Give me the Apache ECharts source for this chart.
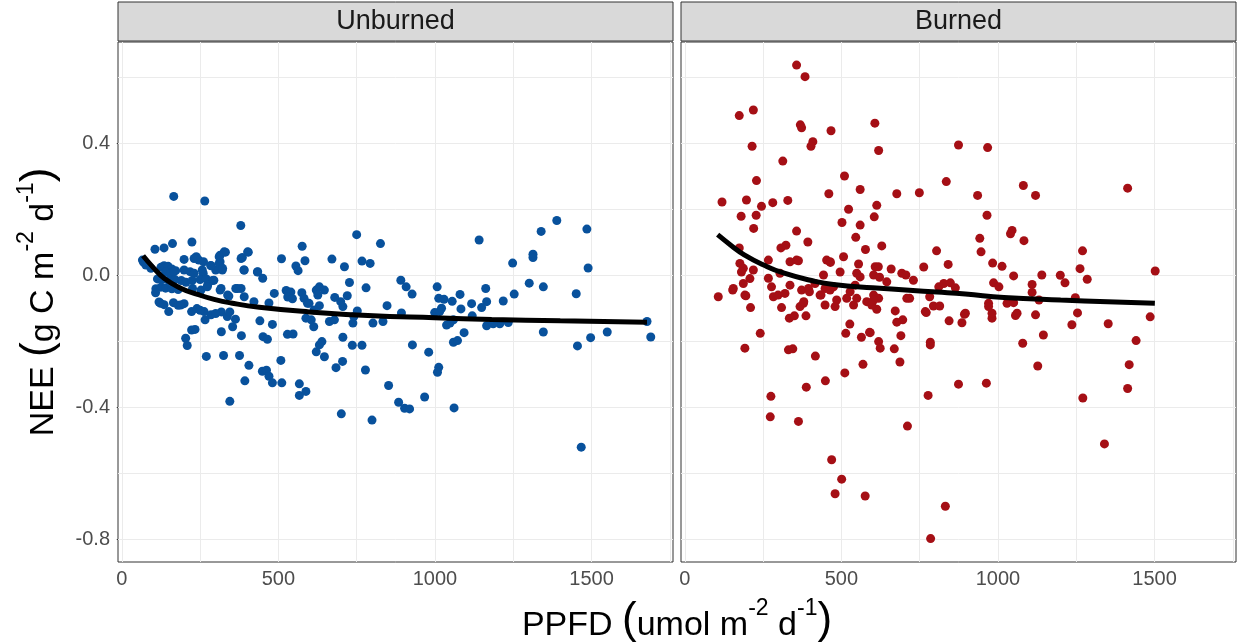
<!DOCTYPE html>
<html><head><meta charset="utf-8">
<script src="https://cdn.jsdelivr.net/npm/echarts@6/dist/echarts.min.js"></script>
<style>html,body{margin:0;padding:0;background:#fff}#c{width:1239px;height:644px}</style>
</head><body><div id="c"></div>
<script>
const facetLabels = ['Unburned', 'Burned'];
const xTicks = [0, 500, 1000, 1500];
const xMinor = [250, 750, 1250, 1750];
const yTicks = [-0.8, -0.4, 0, 0.4];
const yMinor = [-0.6, -0.2, 0.2, 0.6];

const unburnedPoints = [
[166,0.240],[265,0.226],[380,0.152],[106,0.080],[135,0.084],[162,0.097],[224,0.102],[331,0.071],[404,0.071],[576,0.089],
[510,0.051],[238,0.057],[246,0.047],[314,0.062],[314,0.042],[385,0.055],[199,0.049],[66,0.047],[77,0.032],[93,0.022],[70,0.040],
[556,0.029],[563,0.015],[585,0.045],[433,0.011],[450,-0.008],[390,0.017],[284,0.031],[300,0.017],[321,0.017],[257,0.017],[260,0.007],
[125,0.025],[135,0.030],[148,0.028],[160,0.020],[172,0.015],[140,0.010],[155,0.005],[166,0.012],[231,0.052],[261,0.042],[199,0.017],
[218,0.012],[231,0.007],[285,0.030],[311,0.057],[327,0.072],[311,0.037],[322,0.022],[381,0.052],[402,0.072],[391,0.017],[434,0.012],
[114,-0.010],[130,-0.012],[150,-0.015],[170,-0.012],[190,-0.015],[205,-0.020],[225,-0.015],[250,-0.012],[270,-0.010],[290,-0.015],
[109,-0.040],[125,-0.035],[140,-0.038],[160,-0.040],[180,-0.042],[226,-0.039],[253,-0.044],[274,-0.029],[317,-0.039],[338,-0.059],
[370,-0.039],[381,-0.039],[391,-0.064],[294,-0.014],[273,-0.034],
[108,-0.052],[150,-0.109],[124,-0.084],[119,-0.080],[135,-0.088],[165,-0.082],[180,-0.090],[199,-0.085],[188,-0.089],[223,-0.109],
[263,-0.109],[266,-0.134],[285,-0.119],[318,-0.110],[337,-0.124],[363,-0.132],[240,-0.100],[250,-0.105],[300,-0.115],[345,-0.110],
[354,-0.155],[318,-0.170],[382,-0.182],[441,-0.137],[481,-0.148],[451,-0.185],[465,-0.193],[529,-0.178],[547,-0.177],[223,-0.165],
[234,-0.163],[204,-0.190],[209,-0.212],[270,-0.245],[325,-0.242],[376,-0.242],[406,-0.272],[508,-0.257],[393,-0.319],[449,-0.290],
[462,-0.287],[470,-0.305],[481,-0.325],[511,-0.325],[567,-0.328],[567,-0.363],[588,-0.351],[345,-0.381],
[487,-0.054],[525,-0.045],[540,-0.050],[530,-0.065],[545,-0.070],[575,-0.052],[582,-0.069],[593,-0.084],[588,-0.129],[470,-0.083],
[422,-0.079],[364,-0.039],[342,-0.062],[314,-0.044],
[750,0.124],[826,0.097],[1141,0.108],[671,0.050],[711,0.027],[767,0.044],[793,0.037],[727,-0.021],[780,-0.037],[891,-0.014],
[908,-0.034],[927,-0.056],[1007,-0.034],[1012,-0.069],[1029,-0.072],[1055,-0.078],[1080,-0.057],[1083,-0.101],[1117,-0.085],[1149,-0.097],
[1162,-0.039],[1165,-0.079],[999,-0.112],[1015,-0.109],[1021,-0.099],[1037,-0.150],[1048,-0.144],[1059,-0.134],[1119,-0.122],[1165,-0.152],
[1059,-0.202],[1072,-0.197],[1093,-0.173],[980,-0.232],[1012,-0.278],[1008,-0.293],[1061,-0.401],[967,-0.368],[928,-0.210],[884,-0.384],
[903,-0.402],[919,-0.404],[852,-0.333],[799,-0.438],[701,-0.419],[778,-0.286],[767,-0.211],[736,-0.211],[706,-0.187],[705,-0.260],
[684,-0.279],[647,-0.246],[621,-0.231],[631,-0.210],[639,-0.200],[847,-0.091],[893,-0.113],[802,-0.144],[834,-0.139],[738,-0.144],
[741,-0.124],[752,-0.107],[706,-0.094],[699,-0.079],[680,-0.066],[720,-0.061],[663,-0.139],[679,-0.134],[613,-0.155],[605,-0.134],
[621,-0.044],[631,-0.034],[647,-0.044],[626,-0.059],[631,-0.091],[614,-0.104],[598,-0.084],
[1389,0.167],[1339,0.134],[1485,0.141],[1313,0.065],[1313,0.055],[1248,0.038],[1489,0.023],[1301,-0.023],[1346,-0.034],[1451,-0.055],
[1253,-0.056],[1218,-0.077],[1207,-0.146],[1234,-0.142],[1186,-0.146],[1346,-0.171],[1455,-0.213],[1497,-0.188],[1550,-0.171],[1677,-0.139],
[1689,-0.186],[1467,-0.520]
];

const burnedPoints = [
[357,0.638],[384,0.603],[174,0.485],[219,0.502],[369,0.457],[373,0.448],[467,0.439],[215,0.392],[409,0.406],[403,0.392],
[313,0.347],[229,0.288],[510,0.302],[560,0.261],[460,0.248],[119,0.223],[197,0.229],[245,0.210],[281,0.221],[329,0.228],
[523,0.201],[180,0.180],[228,0.183],[220,0.143],[502,0.161],[560,0.153],[357,0.135],[546,0.116],[393,0.102],[307,0.084],
[323,0.092],[577,0.079],[174,0.084],
[176,0.037],[187,0.022],[181,0.011],[219,0.017],[267,0.047],[267,-0.008],[336,0.042],[357,0.047],[304,0.007],[208,-0.009],
[187,-0.024],[155,-0.039],[107,-0.064],[192,-0.059],[277,-0.034],[283,-0.064],[298,-0.059],[320,-0.054],[336,-0.029],[210,-0.097],
[309,-0.097],[373,-0.044],[395,-0.039],[416,-0.024],[379,-0.084],[368,-0.094],[453,0.047],[464,0.042],[507,0.057],[496,0.011],
[448,-0.039],[464,-0.044],[475,-0.034],[485,-0.074],[432,-0.059],[517,-0.069],[528,-0.049],[544,-0.029],[549,-0.069],[560,-0.004],
[549,0.007],[448,-0.089],[480,-0.094],[539,-0.089],[581,-0.079],[603,-0.059],[608,0.027],[603,0.002],[555,0.035],[443,0.002],
[363,0.045],[465,0.040],
[153,-0.044],[195,-0.061],[241,-0.175],[192,-0.220],[380,-0.079],[398,-0.049],[435,-0.059],[527,-0.147],[514,-0.175],[564,-0.187],
[590,-0.172],[331,-0.225],[345,-0.222],[417,-0.244],[569,-0.269],[511,-0.295],[449,-0.319],[388,-0.338],[275,-0.366],[273,-0.428],
[363,-0.442],[469,-0.558],[501,-0.617],[480,-0.661],[576,-0.668],[334,-0.129],[350,-0.122],[387,-0.122],
[607,0.462],[619,0.379],[874,0.396],[967,0.388],[835,0.285],[677,0.248],[749,0.251],[935,0.243],[1081,0.273],[1120,0.243],
[613,0.213],[605,0.178],[965,0.183],[1045,0.137],[1040,0.127],[1083,0.106],[942,0.113],[946,0.072],[629,0.090],[804,0.075],
[763,0.026],[841,0.034],[983,0.038],[1013,0.028],[618,0.027],[659,0.020],[622,-0.005],[693,0.007],[706,0.002],[730,-0.014],
[645,-0.019],[1050,-0.001],[1140,0.002],[1109,-0.027],[1109,-0.051],[986,-0.022],[1003,-0.034],[811,-0.034],[827,-0.024],[848,-0.022],
[864,-0.037],
[619,-0.069],[603,-0.074],[613,-0.102],[597,-0.089],[592,-0.173],[619,-0.200],[624,-0.220],[672,-0.107],[677,-0.141],[696,-0.134],
[690,-0.182],[669,-0.222],[687,-0.262],[709,-0.069],[718,-0.069],[771,-0.112],[782,-0.064],[794,-0.092],[814,-0.092],[784,-0.202],
[784,-0.210],[844,-0.137],[885,-0.143],[893,-0.117],[981,-0.129],[970,-0.084],[970,-0.094],[1029,-0.084],[1050,-0.082],[1056,-0.121],
[1120,-0.119],[1145,-0.180],[1079,-0.205],[1127,-0.274],[874,-0.329],[963,-0.326],[777,-0.363],[711,-0.456],[832,-0.699],[785,-0.797],
[768,-0.109],[896,-0.114],[981,-0.114],[1061,-0.114],[1131,-0.074],
[1414,0.265],[1270,0.075],[1262,0.021],[1199,0.001],[1214,-0.022],[1285,-0.011],[1502,0.014],[1247,-0.067],[1254,-0.113],[1236,-0.149],
[1352,-0.146],[1486,-0.125],[1441,-0.197],[1419,-0.270],[1414,-0.342],[1271,-0.371],[1340,-0.510]
];

const unburnedFit = [[68,0.060],[100,0.025],[135,-0.008],[190,-0.039],[242,-0.057],[295,-0.072],[349,-0.083],[439,-0.096],[598,-0.110],[786,-0.121],[999,-0.128],[1181,-0.133],[1400,-0.137],[1677,-0.141]];
const burnedFit = [[105,0.124],[150,0.090],[190,0.063],[250,0.033],[315,0.008],[414,-0.017],[475,-0.027],[600,-0.037],[805,-0.050],[896,-0.056],[1019,-0.066],[1200,-0.074],[1350,-0.079],[1501,-0.084]];

const FONT = '"Liberation Sans", Arial, sans-serif';
const panels = [
  {left: 118, color: '#08519C', pts: unburnedPoints, fit: unburnedFit},
  {left: 681, color: '#A50F15', pts: burnedPoints, fit: burnedFit}
];
const PW = 555, PT = 42, PH = 520;
const X_MIN = -12, X_MAX = 1760, Y_MIN = -0.868, Y_MAX = 0.708;

const grids = [], xAxes = [], yAxes = [], series = [], graphics = [];
panels.forEach((p, i) => {
  grids.push({left: p.left, top: PT, width: PW, height: PH, show: true, borderColor: '#333333', borderWidth: 1, backgroundColor: 'transparent', containLabel: false});
  xAxes.push({type: 'value', gridIndex: i, min: X_MIN, max: X_MAX,
    axisLine: {show: false},
    axisTick: {show: true, customValues: xTicks, length: 5, lineStyle: {color: '#333333', width: 1}},
    axisLabel: {show: true, customValues: xTicks, color: '#4D4D4D', fontSize: 20, fontFamily: FONT, margin: 7,
      formatter: v => String(v)},
    splitLine: {show: false}});
  yAxes.push({type: 'value', gridIndex: i, min: Y_MIN, max: Y_MAX,
    axisLine: {show: false},
    axisTick: {show: i === 0, customValues: yTicks, length: 5, lineStyle: {color: '#333333', width: 1}},
    axisLabel: {show: i === 0, customValues: yTicks, color: '#4D4D4D', fontSize: 20, fontFamily: FONT, margin: 8,
      formatter: v => Number(v).toFixed(1)},
    splitLine: {show: false}});
  const gl = [];
  xTicks.concat(xMinor).forEach(v => gl.push({xAxis: v}));
  yTicks.concat(yMinor).forEach(v => gl.push({yAxis: v}));
  series.push({type: 'line', xAxisIndex: i, yAxisIndex: i, data: [], z: 1, silent: true,
    markLine: {silent: true, z: 1, symbol: 'none', animation: false, label: {show: false},
      lineStyle: {color: '#EBEBEB', width: 1, type: 'solid'}, emphasis: {disabled: true}, data: gl}});
  series.push({type: 'scatter', xAxisIndex: i, yAxisIndex: i, data: p.pts, symbolSize: 9, z: 2,
    itemStyle: {color: p.color, opacity: 1}});
  series.push({type: 'line', xAxisIndex: i, yAxisIndex: i, data: p.fit, smooth: true, showSymbol: false, z: 3,
    lineStyle: {color: '#000000', width: 5}});
  graphics.push({type: 'rect', shape: {x: p.left, y: 2, width: PW, height: 39},
    style: {fill: '#D9D9D9', stroke: '#333333', lineWidth: 1}, z: 10});
  graphics.push({type: 'text', x: p.left + PW / 2, y: 22, z: 11,
    style: {text: facetLabels[i], font: '27px ' + FONT, fill: '#1A1A1A', textAlign: 'center', textVerticalAlign: 'middle'}});
});

const rich = {
  n: {fontSize: 34, fontFamily: FONT, color: '#000', lineHeight: 46, verticalAlign: 'bottom'},
  p: {fontSize: 44, fontFamily: FONT, color: '#000', lineHeight: 46, verticalAlign: 'bottom'},
  s: {fontSize: 23, fontFamily: FONT, color: '#000', lineHeight: 27, verticalAlign: 'top'}
};
graphics.push({type: 'text', x: 677, y: 620, z: 11,
  style: {text: '{n|PPFD }{p|(}{n|umol m}{s|-2}{n| d}{s|-1}{p|)}', rich: rich, textAlign: 'center', textVerticalAlign: 'middle'}});
graphics.push({type: 'text', x: 38, y: 302, rotation: Math.PI / 2, z: 11,
  style: {text: '{n|NEE }{p|(}{n|g C m}{s|-2}{n| d}{s|-1}{p|)}', rich: rich, textAlign: 'center', textVerticalAlign: 'middle'}});

const chart = echarts.init(document.getElementById('c'), null, {renderer: 'canvas'});
chart.setOption({
  animation: false,
  backgroundColor: '#ffffff',
  grid: grids, xAxis: xAxes, yAxis: yAxes, series: series, graphic: graphics
});
</script></body></html>
